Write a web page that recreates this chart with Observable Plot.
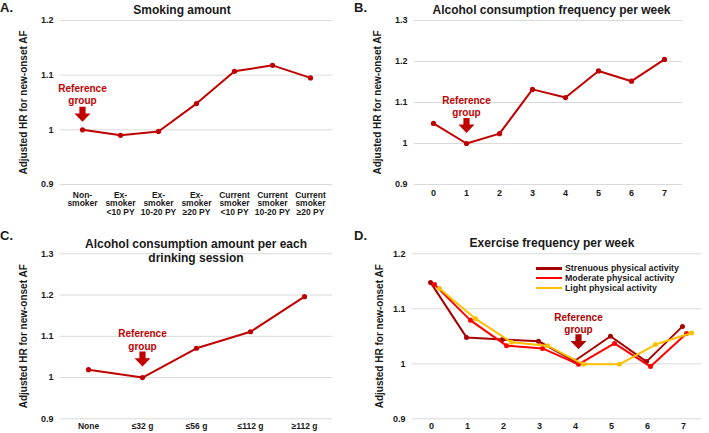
<!DOCTYPE html>
<html><head><meta charset="utf-8">
<script src="https://cdn.jsdelivr.net/npm/d3@7"></script>
<script src="https://cdn.jsdelivr.net/npm/@observablehq/plot@0.6"></script>
<style>
body{margin:0;background:#fff;}
#fig{position:relative;width:709px;height:433px;overflow:hidden;font-family:"Liberation Sans",Arial,sans-serif;font-weight:bold;color:#1a1a1a;background:#fff;}
.panel{position:absolute;}
.lbl{position:absolute;white-space:nowrap;font-weight:bold;}
.ttl{position:absolute;white-space:nowrap;font-weight:bold;font-size:12px;line-height:14.5px;text-align:center;transform:translate(-50%,-50%);color:#1a1a1a;}
.leg{position:absolute;white-space:nowrap;font-weight:bold;font-size:8.8px;line-height:10px;color:#1a1a1a;}
.legline{position:absolute;height:2.4px;}
</style></head><body><div id="fig"></div><script>
// ---------- data ----------
const yAxisLabel = "Adjusted HR for new-onset AF";
const refLabel = "Reference\ngroup";

const smokingTitle = "Smoking amount";
const smokingCategories = ["Non-\nsmoker","Ex-\nsmoker\n<10 PY","Ex-\nsmoker\n10-20 PY","Ex-\nsmoker\n≥20 PY","Current\nsmoker\n<10 PY","Current\nsmoker\n10-20 PY","Current\nsmoker\n≥20 PY"];
const smokingHR = [1.000, 0.990, 0.997, 1.048, 1.107, 1.118, 1.095];
const smokingRef = 0;
const smokingTicks = [0.9, 1, 1.1, 1.2];

const frequencyTitle = "Alcohol consumption frequency per week";
const frequencyDays = [0, 1, 2, 3, 4, 5, 6, 7];
const frequencyHR = [1.049, 1.000, 1.024, 1.132, 1.112, 1.177, 1.152, 1.205];
const frequencyRef = 1;
const frequencyTicks = [0.9, 1, 1.1, 1.2, 1.3];

const amountTitle = "Alcohol consumption amount per each<br>drinking session";
const amountCategories = ["None", "≤32 g", "≤56 g", "≤112 g", "≥112 g"];
const amountHR = [1.019, 1.000, 1.071, 1.111, 1.196];
const amountRef = 1;
const amountTicks = [0.9, 1, 1.1, 1.2, 1.3];

const exerciseTitle = "Exercise frequency per week";
const exerciseDays = [0, 1, 2, 3, 4, 5, 6, 7];
const seriesNames = ["Strenuous physical activity", "Moderate physical activity", "Light physical activity"];
const strenuousHR = [1.148, 1.048, 1.044, 1.041, 1.005, 1.050, 1.004, 1.068];
const moderateHR  = [1.144, 1.079, 1.033, 1.028, 0.999, 1.037, 0.995, 1.055];
const lightHR     = [1.137, 1.082, 1.039, 1.033, 0.999, 0.999, 1.035, 1.056];
const exerciseRef = 4;
const exerciseTicks = [0.9, 1, 1.1, 1.2];

// ---------- helpers ----------
const FONT = '"Liberation Sans", Arial, sans-serif';
const RED = "#C00000";
const seriesColors = ["#A80000", "#FF0000", "#FFC000"];
const seriesDx = [-1, 3, 8];

const arrowSymbol = {
  draw(ctx) {
    ctx.moveTo(0, 0);
    ctx.lineTo(8, -8.4);
    ctx.lineTo(3.1, -8.4);
    ctx.lineTo(3.1, -15);
    ctx.lineTo(-3.1, -15);
    ctx.lineTo(-3.1, -8.4);
    ctx.lineTo(-8, -8.4);
    ctx.closePath();
  }
};

const fig = document.getElementById("fig");

function rows(cats, vals) { return cats.map((c, i) => ({x: c, y: vals[i]})); }

function refMarks(cat, textDy, arrowDy, dx = 0, color = RED) {
  const d = [{x: cat, y: 1}];
  return [
    Plot.text(d, {x: "x", y: "y", text: () => refLabel, dx, dy: textDy, fill: color, fontSize: 10, fontWeight: "bold", lineHeight: 1.22, lineAnchor: "middle"}),
    Plot.dot(d, {x: "x", y: "y", symbol: arrowSymbol, r: 5, fill: color, stroke: "none", dx, dy: arrowDy})
  ];
}

function panel({left, top, width, height, mt, mr, mb, ml, xDomain, yTicks, xFont, xPad, labelDx, marks}) {
  const svg = Plot.plot({
    width, height,
    marginTop: mt, marginRight: mr, marginBottom: mb, marginLeft: ml,
    x: {type: "point", domain: xDomain, padding: 0.5},
    y: {domain: [yTicks[0], yTicks[yTicks.length - 1]]},
    style: {fontFamily: FONT, fontWeight: "bold", color: "#1a1a1a", background: "transparent", overflow: "visible"},
    marks: [
      Plot.gridY(yTicks, {stroke: "#d9d9d9", strokeOpacity: 1, strokeWidth: 1}),
      Plot.axisY(yTicks, {tickSize: 0, tickPadding: 7, fontSize: 9, fontWeight: "bold", tickFormat: d => String(d), label: null}),
      Plot.axisX({tickSize: 0, tickPadding: xPad, fontSize: xFont, fontWeight: "bold", lineHeight: 1, label: null}),
      Plot.text([yAxisLabel], {frameAnchor: "left", rotate: -90, dx: labelDx, text: d => d, textAnchor: "middle", fontSize: 10, fontWeight: "bold"}),
      ...marks
    ]
  });
  svg.classList.add("panel");
  svg.style.left = left + "px";
  svg.style.top = top + "px";
  fig.appendChild(svg);
}

function addText(cls, html, left, top, extra = "") {
  const el = document.createElement("div");
  el.className = cls;
  el.innerHTML = html;
  el.style.cssText += `left:${left}px;top:${top}px;${extra}`;
  fig.appendChild(el);
  return el;
}

// ---------- Panel A ----------
const aRows = rows(smokingCategories, smokingHR);
panel({
  left: 0, top: 0, width: 354, height: 216, mt: 20, mr: 22, mb: 32, ml: 60,
  xDomain: smokingCategories, yTicks: smokingTicks, xFont: 8.5, xPad: 7, labelDx: -37,
  marks: [
    Plot.line(aRows, {x: "x", y: "y", stroke: RED, strokeWidth: 2}),
    Plot.dot(aRows, {x: "x", y: "y", fill: RED, r: 2.6}),
    ...refMarks(smokingCategories[smokingRef], -36, -8)
  ]
});

// ---------- Panel B ----------
const bRows = rows(frequencyDays, frequencyHR);
panel({
  left: 354, top: 0, width: 355, height: 216, mt: 20, mr: 27, mb: 32, ml: 60,
  xDomain: frequencyDays, yTicks: frequencyTicks, xFont: 9, xPad: 5.5, labelDx: -37,
  marks: [
    Plot.line(bRows, {x: "x", y: "y", stroke: RED, strokeWidth: 2}),
    Plot.dot(bRows, {x: "x", y: "y", fill: RED, r: 2.6}),
    ...refMarks(frequencyDays[frequencyRef], -37.5, -10.5)
  ]
});

// ---------- Panel C ----------
const cRows = rows(amountCategories, amountHR);
panel({
  left: 0, top: 216, width: 354, height: 217, mt: 37.3, mr: 22, mb: 14.7, ml: 60,
  xDomain: amountCategories, yTicks: amountTicks, xFont: 8.5, xPad: 4, labelDx: -37,
  marks: [
    Plot.line(cRows, {x: "x", y: "y", stroke: RED, strokeWidth: 2}),
    Plot.dot(cRows, {x: "x", y: "y", fill: RED, r: 2.6}),
    ...refMarks(amountCategories[amountRef], -38, -11)
  ]
});

// ---------- Panel D ----------
const dSeries = [strenuousHR, moderateHR, lightHR];
const dMarks = [];
dSeries.forEach((vals, k) => {
  const r = rows(exerciseDays, vals);
  dMarks.push(Plot.line(r, {x: "x", y: "y", stroke: seriesColors[k], strokeWidth: 2, dx: seriesDx[k]}));
  dMarks.push(Plot.dot(r, {x: "x", y: "y", fill: seriesColors[k], r: 2.5, dx: seriesDx[k]}));
});
panel({
  left: 354, top: 216, width: 355, height: 217, mt: 37.3, mr: 8, mb: 14.7, ml: 58,
  xDomain: exerciseDays, yTicks: exerciseTicks, xFont: 9, xPad: 4, labelDx: -33,
  marks: [...dMarks, ...refMarks(exerciseDays[exerciseRef], -41, -14.5, 3, "#B00000")]
});

// ---------- titles, panel letters, legend ----------
addText("ttl", smokingTitle, 182, 9.5);
addText("ttl", frequencyTitle, 551.5, 9.5);
addText("ttl", amountTitle, 196, 250.7);
addText("ttl", exerciseTitle, 552, 243.3);

addText("lbl", "A.", 0, 0, "font-size:13px;line-height:15px;");
addText("lbl", "B.", 354, 0, "font-size:13px;line-height:15px;");
addText("lbl", "C.", 0, 228, "font-size:13px;line-height:15px;");
addText("lbl", "D.", 354, 228, "font-size:13px;line-height:15px;");

seriesNames.forEach((name, k) => {
  const cy = 268.5 + k * 9.8;
  addText("legline", "", 536, cy - 1.2, `width:26px;background:${seriesColors[k]};`);
  addText("leg", name, 565, cy - 5.2);
});
</script></body></html>
